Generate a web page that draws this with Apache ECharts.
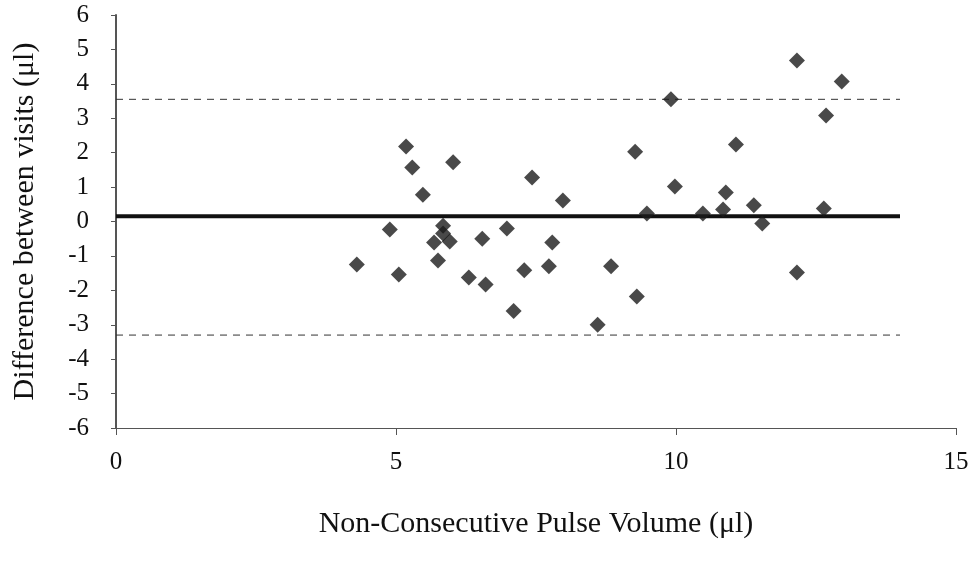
<!DOCTYPE html>
<html>
<head>
<meta charset="utf-8">
<title>Difference between visits</title>
<script src="https://cdn.jsdelivr.net/npm/echarts@6/dist/echarts.min.js"></script>
<style>
  html, body { margin: 0; padding: 0; background: #fff; }
  #chart { width: 975px; height: 569px; }
</style>
</head>
<body>
<div id="chart"></div>
<script>
// pulse volume (x) and difference between visits (y)
const volume = [
  5.18, 5.29, 6.02, 7.43, 9.27, 5.48, 7.98, 9.48, 4.89, 5.84,
  5.84, 5.68, 5.96, 6.54, 6.98, 7.79, 4.30, 5.05, 5.75, 6.30,
  6.60, 7.29, 7.73, 8.84, 7.10, 9.30, 8.60, 12.16, 12.96, 9.91,
  12.68, 11.07, 9.98, 10.89, 10.48, 10.84, 11.39, 11.54, 12.64, 12.16
];
const difference = [
  2.18, 1.57, 1.72, 1.28, 2.03, 0.78, 0.61, 0.23, -0.23, -0.12,
  -0.35, -0.61, -0.58, -0.50, -0.20, -0.61, -1.25, -1.54, -1.13, -1.63,
  -1.83, -1.42, -1.30, -1.30, -2.60, -2.18, -3.00, 4.68, 4.07, 3.55,
  3.08, 2.24, 1.02, 0.84, 0.23, 0.35, 0.47, -0.06, 0.38, -1.48
];

const meanDiff = 0.15;
const upperLimit = 3.55;
const lowerLimit = -3.3;
const lineSpan = [0, 14];

const xTicks = { min: 0, max: 15, interval: 5 };
const yTicks = { min: -6, max: 6, interval: 1 };

const points = volume.map((v, i) => [v, difference[i]]);
const hLine = (y) => lineSpan.map((x) => [x, y]);

const font = "'Liberation Serif', 'DejaVu Serif', serif";

let myChart = echarts.init(document.getElementById("chart"));
myChart.setOption({
  animation: false,
  grid: {
    left: 116,
    right: 19,
    top: 15,
    bottom: 141
  },
  xAxis: {
    type: "value",
    min: xTicks.min,
    max: xTicks.max,
    interval: xTicks.interval,
    name: "Non-Consecutive Pulse Volume (μl)",
    nameLocation: "middle",
    nameGap: 81,
    nameTextStyle: { fontFamily: font, fontSize: 30, color: "#111" },
    axisLine: { onZero: false, lineStyle: { color: "#555", width: 1 } },
    axisTick: { length: 7, lineStyle: { color: "#555" } },
    axisLabel: { margin: 22, fontFamily: font, fontSize: 25, color: "#111" },
    splitLine: { show: false }
  },
  yAxis: {
    type: "value",
    min: yTicks.min,
    max: yTicks.max,
    interval: yTicks.interval,
    name: "Difference between visits (μl)",
    nameLocation: "middle",
    nameGap: 76,
    nameTextStyle: { fontFamily: font, fontSize: 30, color: "#111" },
    axisLine: { show: true, lineStyle: { color: "#555", width: 2 } },
    axisTick: { show: true, length: 5, lineStyle: { color: "#555" } },
    axisLabel: { margin: 27, fontFamily: font, fontSize: 25, color: "#111" },
    splitLine: { show: false }
  },
  series: [
    {
      name: "mean",
      type: "line",
      data: hLine(meanDiff),
      symbol: "none",
      lineStyle: { color: "#111", width: 4 },
      z: 2
    },
    {
      name: "upper",
      type: "line",
      data: hLine(upperLimit),
      symbol: "none",
      lineStyle: { color: "#333", width: 1, type: [7, 6] },
      z: 2
    },
    {
      name: "lower",
      type: "line",
      data: hLine(lowerLimit),
      symbol: "none",
      lineStyle: { color: "#333", width: 1, type: [7, 6] },
      z: 2
    },
    {
      name: "difference",
      type: "scatter",
      data: points,
      symbol: "diamond",
      symbolSize: [16, 16],
      itemStyle: { color: "#1c1c1c" },
      z: 3
    }
  ]
});
</script>
</body>
</html>
